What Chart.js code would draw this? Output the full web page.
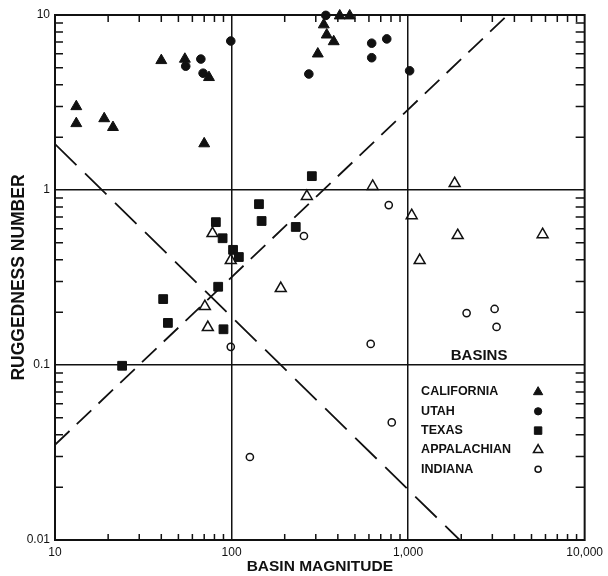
<!DOCTYPE html>
<html>
<head>
<meta charset="utf-8">
<script src="https://cdn.jsdelivr.net/npm/chart.js@4.4.0/dist/chart.umd.min.js"></script>
<style>
  html, body { margin: 0; padding: 0; background: #fff; }
  #wrap { width: 608px; height: 576px; }
</style>
</head>
<body>
<div id="wrap"><canvas id="myChart" width="608" height="576"></canvas></div>
<script>
const ink = '#111';

// basin magnitude (x) vs ruggedness number (y)
const californiaX = [13.2, 13.2, 19, 21.3, 40, 54.4, 70, 74.5, 333, 346, 379, 308, 410, 467];
const californiaY = [3.0, 2.4, 2.56, 2.28, 5.5, 5.6, 1.84, 4.4, 8.8, 7.7, 7.05, 6.0, 9.9, 9.9];

const utahX = [67, 55, 69, 99, 342, 274, 622, 622, 757, 1020];
const utahY = [5.6, 5.1, 4.65, 7.1, 9.95, 4.6, 6.9, 5.7, 7.3, 4.8];

const texasX = [285, 143, 148, 81.5, 89, 102, 110, 84, 41, 43.6, 90, 24, 231];
const texasY = [1.2, 0.83, 0.665, 0.655, 0.53, 0.455, 0.414, 0.28, 0.238, 0.174, 0.16, 0.099, 0.615];

const appalachianX = [267, 78, 99, 70.6, 73.4, 190, 630, 1835, 1048, 1910, 5780, 1163];
const appalachianY = [0.92, 0.565, 0.396, 0.216, 0.164, 0.274, 1.05, 1.09, 0.715, 0.55, 0.557, 0.396];

const indianaX = [257, 99, 777, 2145, 3090, 3170, 614, 808, 127];
const indianaY = [0.546, 0.127, 0.82, 0.198, 0.209, 0.165, 0.132, 0.047, 0.0298];

// the two dashed lines
const riseX = [10, 3665];
const riseY = [0.035, 10];
const fallX = [10, 1960];
const fallY = [1.83, 0.01];

const xTickValues = [10, 100, 1000, 10000];
const xTickLabels = ['10', '100', '1,000', '10,000'];
const yTickValues = [0.01, 0.1, 1, 10];
const yTickLabels = ['0.01', '0.1', '1', '10'];

function pts(xs, ys) {
    return xs.map((v, i) => ({ x: v, y: ys[i] }));
}

function isDecade(v) {
    const l = Math.log10(v);
    return Math.abs(l - Math.round(l)) < 1e-6;
}

// decade values plus the 2..9 steps between them
function logSteps(decades) {
    let out = [];
    for (let i = 0; i < decades.length; i++) {
        out.push(decades[i]);
        if (i < decades.length - 1) {
            for (let k = 2; k <= 9; k++) out.push(+(k * decades[i]).toPrecision(6));
        }
    }
    return out;
}

function labelFor(values, labels, v) {
    const i = values.findIndex(t => Math.abs(t - v) / t < 1e-6);
    return i >= 0 ? labels[i] : '';
}

function gridColor(values) {
    return (c) => {
        const v = c.tick && c.tick.value;
        if (v === undefined) return 'transparent';
        if (v === values[0] || v === values[values.length - 1]) return 'transparent';
        return isDecade(v) ? ink : 'transparent';
    };
}

// frame and inward minor ticks on all four sides
const frameTicks = {
    id: 'frameTicks',
    beforeDatasetsDraw(chart) {
        const { ctx, chartArea: a, scales: { x, y } } = chart;
        ctx.save();
        ctx.strokeStyle = ink;
        ctx.lineWidth = 1.5;
        ctx.beginPath();
        x.ticks.forEach(t => {
            if (isDecade(t.value)) return;
            const px = x.getPixelForValue(t.value);
            ctx.moveTo(px, a.bottom); ctx.lineTo(px, a.bottom - 6);
            ctx.moveTo(px, a.top); ctx.lineTo(px, a.top + 7);
        });
        y.ticks.forEach(t => {
            if (isDecade(t.value)) return;
            const py = y.getPixelForValue(t.value);
            ctx.moveTo(a.left, py); ctx.lineTo(a.left + 8, py);
            ctx.moveTo(a.right, py); ctx.lineTo(a.right - 9, py);
        });
        ctx.stroke();
        ctx.lineWidth = 2;
        ctx.strokeRect(a.left, a.top, a.right - a.left, a.bottom - a.top);
        ctx.restore();
    }
};

// "BASINS" key in the lower right quadrant
const basinKey = {
    id: 'basinKey',
    afterDatasetsDraw(chart) {
        const { ctx, scales: { x, y } } = chart;
        const textLeft = x.getPixelForValue(1000) + 13;
        const symX = textLeft + 117;
        const headY = y.getPixelForValue(0.1) - 9;
        ctx.save();
        ctx.fillStyle = ink;
        ctx.textBaseline = 'middle';
        ctx.font = 'bold 15px "Liberation Sans", Arial, sans-serif';
        ctx.textAlign = 'center';
        ctx.fillText('BASINS', textLeft + 58, headY);
        ctx.font = 'bold 12.5px "Liberation Sans", Arial, sans-serif';
        ctx.textAlign = 'left';
        const marks = chart.data.datasets.filter(d => !d.showLine);
        marks.forEach((d, i) => {
            const ty = headY + 36 + i * 19.3;
            ctx.fillStyle = ink;
            ctx.fillText(d.label, textLeft, ty);
            ctx.fillStyle = d.pointBackgroundColor;
            ctx.strokeStyle = d.pointBorderColor;
            ctx.lineWidth = d.pointBorderWidth;
            Chart.helpers.drawPoint(ctx, {
                pointStyle: d.pointStyle,
                radius: d.pointRadius * 0.85,
                rotation: 0,
                borderWidth: d.pointBorderWidth
            }, symX, ty);
        });
        ctx.restore();
    }
};

const ctx = document.getElementById('myChart').getContext('2d');

Chart.defaults.font.family = '"Liberation Sans", Arial, sans-serif';
Chart.defaults.color = ink;

const markStyle = (label, xs, ys, style, r, filled) => ({
    label: label,
    data: pts(xs, ys),
    pointStyle: style,
    pointRadius: r,
    pointBackgroundColor: filled ? ink : 'rgba(255,255,255,0)',
    pointBorderColor: ink,
    pointBorderWidth: filled ? 1 : 1.5,
    clip: false
});

const chart = new Chart(ctx, {
    type: 'scatter',
    data: {
        datasets: [
            markStyle('CALIFORNIA', californiaX, californiaY, 'triangle', 6.3, true),
            markStyle('UTAH', utahX, utahY, 'circle', 4.3, true),
            markStyle('TEXAS', texasX, texasY, 'rect', 6.2, true),
            markStyle('APPALACHIAN', appalachianX, appalachianY, 'triangle', 6.3, false),
            markStyle('INDIANA', indianaX, indianaY, 'circle', 3.6, false),
            {
                label: 'rise',
                data: pts(riseX, riseY),
                showLine: true,
                borderColor: ink,
                borderWidth: 1.8,
                borderDash: [20, 10],
                pointRadius: 0,
                fill: false
            },
            {
                label: 'fall',
                data: pts(fallX, fallY),
                showLine: true,
                borderColor: ink,
                borderWidth: 1.8,
                borderDash: [30, 12],
                pointRadius: 0,
                fill: false
            }
        ]
    },
    options: {
        responsive: false,
        animation: false,
        layout: { padding: { top: 15, right: 23, left: 0, bottom: 0 } },
        plugins: {
            legend: { display: false },
            tooltip: { enabled: false }
        },
        scales: {
            x: {
                type: 'logarithmic',
                min: 10,
                max: 10000,
                afterBuildTicks: (s) => { s.ticks = logSteps(xTickValues).map(v => ({ value: v })); },
                afterFit: (s) => { s.height = 36; },
                border: { display: false },
                grid: { color: gridColor(xTickValues), lineWidth: 1.5, drawTicks: false },
                ticks: {
                    autoSkip: false,
                    maxRotation: 0,
                    padding: 5,
                    font: { size: 12 },
                    callback: (v) => labelFor(xTickValues, xTickLabels, v)
                },
                title: {
                    display: true,
                    text: 'BASIN MAGNITUDE',
                    font: { size: 15.5, weight: 'bold' },
                    padding: { top: 0, bottom: 0 }
                }
            },
            y: {
                type: 'logarithmic',
                min: 0.01,
                max: 10,
                afterBuildTicks: (s) => { s.ticks = logSteps(yTickValues).map(v => ({ value: v })); },
                afterFit: (s) => { s.width = 55; },
                border: { display: false },
                grid: { color: gridColor(yTickValues), lineWidth: 1.5, drawTicks: false },
                ticks: {
                    autoSkip: false,
                    padding: 5,
                    font: { size: 12 },
                    callback: (v) => labelFor(yTickValues, yTickLabels, v)
                },
                title: {
                    display: true,
                    text: 'RUGGEDNESS NUMBER',
                    font: { size: 17.5, weight: 'bold' },
                    padding: { top: 9, bottom: 0 }
                }
            }
        }
    },
    plugins: [frameTicks, basinKey]
});
</script>
</body>
</html>
